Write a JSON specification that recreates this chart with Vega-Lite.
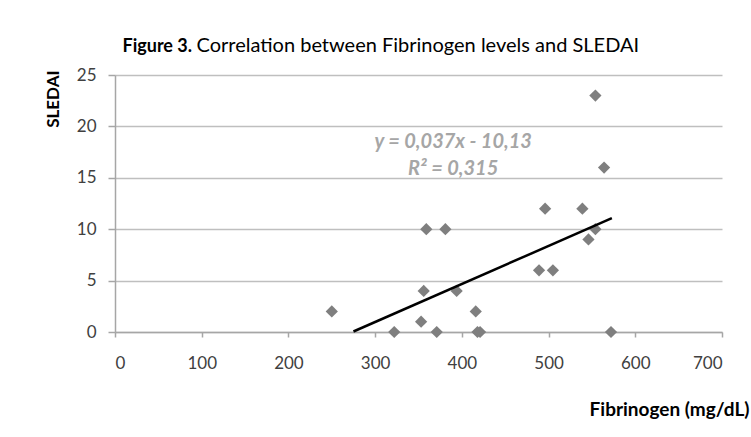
{
  "$schema": "https://vega.github.io/schema/vega-lite/v6.json",
  "width": 607,
  "height": 257,
  "autosize": {"type": "none"},
  "padding": {"left": 115, "top": 75, "right": 29, "bottom": 105},
  "background": "white",
  "config": {
    "view": {"stroke": null},
    "font": "Lato",
    "axis": {
      "labelFont": "Lato",
      "labelFontSize": 17,
      "labelColor": "#404040",
      "titleFont": "Lato",
      "titleFontSize": 17,
      "titleFontWeight": "bold",
      "titleColor": "#000000",
      "domainColor": "#a6a6a6",
      "domainWidth": 1.5,
      "tickColor": "#a6a6a6",
      "tickWidth": 1.5,
      "gridColor": "#bfbfbf",
      "gridWidth": 1.5
    }
  },
  "resolve": {"scale": {"x": "independent", "y": "independent"}},
  "layer": [
    {
      "data": {
        "values": [
          {"fibrinogen": 250, "sledai": 2},
          {"fibrinogen": 322, "sledai": 0},
          {"fibrinogen": 353, "sledai": 1},
          {"fibrinogen": 356, "sledai": 4},
          {"fibrinogen": 359, "sledai": 10},
          {"fibrinogen": 371, "sledai": 0},
          {"fibrinogen": 381, "sledai": 10},
          {"fibrinogen": 394, "sledai": 4},
          {"fibrinogen": 416, "sledai": 2},
          {"fibrinogen": 418, "sledai": 0},
          {"fibrinogen": 421, "sledai": 0},
          {"fibrinogen": 489, "sledai": 6},
          {"fibrinogen": 505, "sledai": 6},
          {"fibrinogen": 496, "sledai": 12},
          {"fibrinogen": 539, "sledai": 12},
          {"fibrinogen": 546, "sledai": 9},
          {"fibrinogen": 554, "sledai": 10},
          {"fibrinogen": 554, "sledai": 23},
          {"fibrinogen": 564, "sledai": 16},
          {"fibrinogen": 572, "sledai": 0}
        ]
      },
      "mark": {"type": "point", "shape": "diamond", "filled": true, "size": 150, "color": "#7f7f7f", "opacity": 1},
      "encoding": {
        "x": {
          "field": "fibrinogen",
          "type": "quantitative",
          "title": "Fibrinogen (mg/dL)",
          "scale": {"domain": [0, 700], "nice": false},
          "axis": {
            "orient": "bottom",
            "values": [0, 100, 200, 300, 400, 500, 600, 700],
            "grid": false,
            "tickSize": 5,
            "labelPadding": 18,
            "titleFontSize": 19,
            "titleAlign": "right",
            "titleAnchor": "end",
            "titleX": 634,
            "titleY": 77,
            "titleBaseline": "middle"
          }
        },
        "y": {
          "field": "sledai",
          "type": "quantitative",
          "title": "SLEDAI",
          "scale": {"domain": [0, 25], "nice": false},
          "axis": {
            "orient": "left",
            "values": [0, 5, 10, 15, 20, 25],
            "grid": true,
            "tickSize": 7,
            "labelPadding": 12,
            "titleAlign": "right",
            "titleX": -62,
            "titleY": -5,
            "titleAngle": -90,
            "titleBaseline": "middle"
          }
        }
      }
    },
    {
      "data": {
        "values": [
          {"fibrinogen": 275, "sledai": 0.05},
          {"fibrinogen": 573, "sledai": 11.07}
        ]
      },
      "mark": {"type": "line", "color": "#000000", "strokeWidth": 2.5},
      "encoding": {
        "x": {"field": "fibrinogen", "type": "quantitative", "scale": {"domain": [0, 700], "nice": false}, "axis": null},
        "y": {
          "field": "sledai",
          "type": "quantitative",
          "title": "Figure 3.",
          "scale": {"domain": [0, 25], "nice": false},
          "axis": {
            "orient": "right",
            "labels": false,
            "ticks": false,
            "domain": false,
            "grid": false,
            "titleAngle": 0,
            "titleAlign": "left",
            "titleBaseline": "alphabetic",
            "titleFontSize": 18,
            "titleFontWeight": "bold",
            "titleX": -600,
            "titleY": -24
          }
        }
      }
    },
    {
      "data": {
        "values": [
          {"eq": "y = 0,037x - 10,13", "fibrinogen": 390, "sledai": 18.45},
          {"eq": "R² = 0,315", "fibrinogen": 390, "sledai": 15.9}
        ]
      },
      "mark": {"type": "text", "font": "Lato", "fontSize": 20, "fontWeight": "bold", "fontStyle": "italic", "color": "#a6a6a6", "align": "center", "baseline": "middle"},
      "encoding": {
        "x": {
          "field": "fibrinogen",
          "type": "quantitative",
          "title": "Correlation between Fibrinogen levels and SLEDAI",
          "scale": {"domain": [0, 700], "nice": false},
          "axis": {
            "orient": "top",
            "labels": false,
            "ticks": false,
            "domain": false,
            "grid": false,
            "titleAlign": "left",
            "titleAnchor": "start",
            "titleBaseline": "alphabetic",
            "titleFontSize": 20,
            "titleFontWeight": "normal",
            "titleX": 81,
            "titleY": -24
          }
        },
        "y": {"field": "sledai", "type": "quantitative", "scale": {"domain": [0, 25], "nice": false}, "axis": null},
        "text": {"field": "eq"}
      }
    }
  ]
}
